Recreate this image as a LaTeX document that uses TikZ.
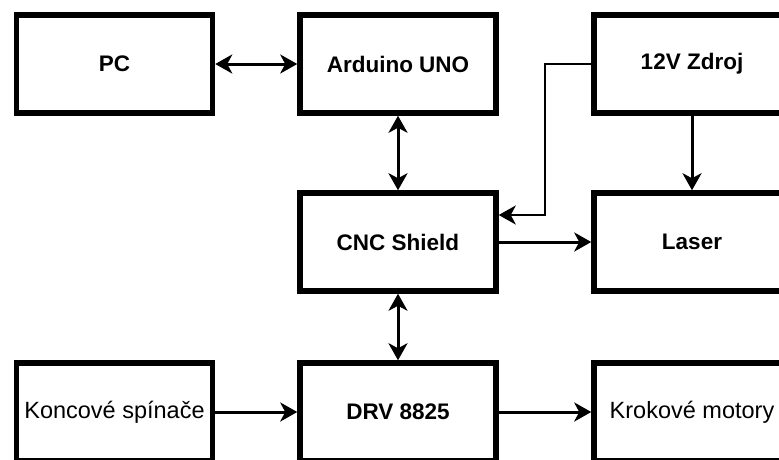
\documentclass[tikz,border=0pt]{standalone}
\usepackage{fontspec}
\setmainfont{Liberation Sans}
\usetikzlibrary{arrows.meta}

\begin{document}
\begin{tikzpicture}[x=1pt,y=-1pt,
    blok/.style={draw,line width=5.5pt,fill=white,minimum width=196pt,minimum height=98pt,inner sep=0pt,font=\fontsize{22.5}{26}\selectfont\bfseries},
    tenky/.style={blok,font=\fontsize{23.5}{27}\selectfont},
    hrot/.tip={Stealth[length=17pt,width=19pt,inset=5pt]},
    spoj/.style={line width=3pt,-hrot},
    obojsmer/.style={line width=3pt,hrot-hrot}]
    \useasboundingbox (0,0) rectangle (779,459);
    % horny rad
    \node[blok] (pc) at (114.5,64) {PC};
    \node[blok] (uno) at (398,64) {Arduino UNO};
    \node[blok] (zdroj) at (692,64) {12V Zdroj};
    % stredny rad
    \node[blok] (cnc) at (398,242) {CNC Shield};
    \node[blok] (laser) at (692,242) {Laser};
    % spodny rad
    \node[tenky] (spinace) at (114.5,412) {Koncové spínače};
    \node[blok] (drv) at (398,412) {DRV 8825};
    \node[tenky] (motory) at (692,412) {Krokové motory};
    \coordinate (ohyb) at (545,215);
    \draw[obojsmer] (pc) -- (uno);
    \draw[obojsmer] (uno) -- (cnc);
    \draw[obojsmer] (cnc) -- (drv);
    \draw[spoj] (zdroj) -- (laser);
    \draw[spoj] (cnc) -- (laser);
    \draw[spoj,line width=2.5pt] (zdroj.west) -| (ohyb) -- (ohyb -| cnc.east);
    \draw[spoj] (spinace) -- (drv);
    \draw[spoj] (drv) -- (motory);
\end{tikzpicture}
\end{document}
